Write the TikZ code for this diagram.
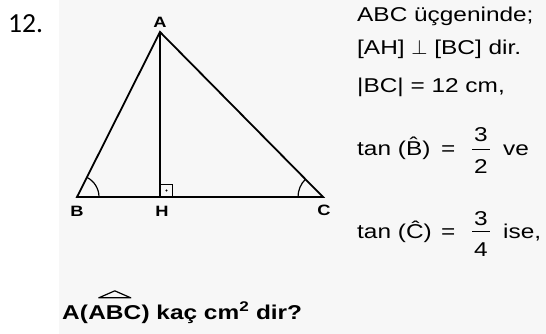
\documentclass[tikz,border=0pt]{standalone}
\usepackage{fontspec}
\usetikzlibrary{positioning}

\newfontfamily\scanfont[FakeStretch=1.22]{Liberation Sans}
\newfontfamily\numfont{Carlito}
\definecolor{panelgrey}{HTML}{F7F7F7}

\tikzset{
  tri/.style = {line width=1.8pt},
  anglemark/.style = {line width=1.2pt},
  vlabel/.style = {inner sep=0pt, font=\scanfont\bfseries\fontsize{15}{17}\selectfont},
  txt/.style = {anchor=base west, inner sep=0pt, font=\scanfont\fontsize{20}{24}\selectfont},
  qtxt/.style = {anchor=base west, inner sep=0pt, font=\scanfont\bfseries\fontsize{20}{24}\selectfont},
  digit/.style = {anchor=base, inner sep=0pt, font=\scanfont\fontsize{20}{24}\selectfont},
  fracbar/.style = {line width=1.4pt}
}

\begin{document}
\begin{tikzpicture}[x=1pt, y=1pt, node distance = 4pt]
  \useasboundingbox (0,0) rectangle (546,-334);
  \fill[panelgrey] (59,0) rectangle (546,-334);

  \node[anchor=base west, inner sep=0pt, font=\numfont\fontsize{27.6}{30}\selectfont] (num) at (8,-33) {12.};

  % triangle
  \coordinate (A) at (160,-32);
  \coordinate (B) at (77,-197);
  \coordinate (C) at (323,-197);
  \coordinate (H) at (160,-197);

  \draw[tri] (A) -- (B) -- (C) -- cycle;
  \draw[tri] (A) -- (H);

  \draw[anglemark] ([yshift=12.5pt]H) -| ([xshift=12.5pt]H);
  \fill ([shift={(6.5pt,6.5pt)}]H) circle (1.1pt);

  \draw[anglemark] ([xshift=22pt]B) arc[start angle=0, end angle=63.3, radius=22pt];
  \draw[anglemark] ([xshift=-25pt]C) arc[start angle=180, end angle=134.7, radius=25pt];

  \node[vlabel, above=4pt of A] (lA) {A};
  \node[vlabel, below=9pt of B] (lB) {B};
  \node[vlabel, below=9pt of H, xshift=2pt] (lH) {H};
  \node[vlabel, below=8pt of C, xshift=1pt] (lC) {C};

  % given data
  \node[txt] (g1) at (357,-22) {ABC üçgeninde;};
  \node[txt] (g2) at (357,-55) {[AH] $\perp$ [BC] dir.};
  \node[txt] (g3) at (357,-93) {|BC| = 12 cm,};

  \node[txt] (tb) at (357,-155) {tan (\^{B})};
  \node[txt] (eb) at (441,-155) {=};
  \node[digit] (bnum) at (481,-142) {3};
  \node[digit] (bden) at (481,-173) {2};
  \draw[fracbar] (472,-149.5) -- (490,-149.5);
  \node[txt] (ve) at (503,-155) {ve};

  \node[txt] (tc) at (357,-238) {tan (\^{C})};
  \node[txt] (ec) at (441,-238) {=};
  \node[digit] (cnum) at (481,-225) {3};
  \node[digit] (cden) at (481,-256) {4};
  \draw[fracbar] (472,-231.5) -- (490,-231.5);
  \node[txt] (ise) at (503,-238) {ise,};

  % question
  \node[qtxt] (q1) at (62,-319) {A(};
  \node[qtxt, right=0pt of q1.base east, anchor=base west] (q2) {ABC};
  \node[qtxt, right=0pt of q2.base east, anchor=base west] (q3) {) kaç cm\textsuperscript{2} dir?};
  \draw[line width=1.2pt, line join=round] ([shift={(-16pt,7pt)}]q2.north) -- ([yshift=14pt]q2.north) -- ([shift={(16pt,7pt)}]q2.north) -- cycle;
\end{tikzpicture}
\end{document}
